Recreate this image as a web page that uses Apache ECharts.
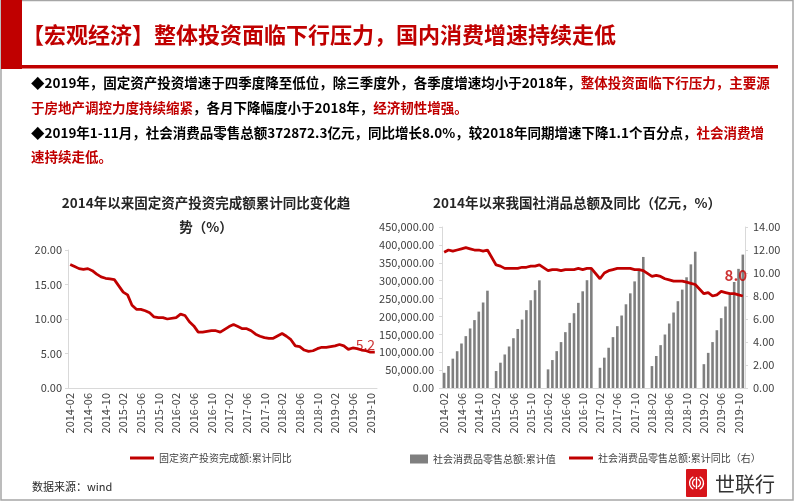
<!DOCTYPE html>
<html><head><meta charset="utf-8">
<script src="https://cdn.jsdelivr.net/npm/echarts@6/dist/echarts.min.js"></script>
<style>html,body{margin:0;padding:0;background:#fff}#c{width:802px;height:502px}</style>
</head><body><div id="c"></div>
<script>
// ---------- data ----------
const categories = [
 '2014-02','2014-03','2014-04','2014-05','2014-06','2014-07','2014-08','2014-09','2014-10','2014-11','2014-12',
 '2015-01','2015-02','2015-03','2015-04','2015-05','2015-06','2015-07','2015-08','2015-09','2015-10','2015-11','2015-12',
 '2016-01','2016-02','2016-03','2016-04','2016-05','2016-06','2016-07','2016-08','2016-09','2016-10','2016-11','2016-12',
 '2017-01','2017-02','2017-03','2017-04','2017-05','2017-06','2017-07','2017-08','2017-09','2017-10','2017-11','2017-12',
 '2018-01','2018-02','2018-03','2018-04','2018-05','2018-06','2018-07','2018-08','2018-09','2018-10','2018-11','2018-12',
 '2019-01','2019-02','2019-03','2019-04','2019-05','2019-06','2019-07','2019-08','2019-09','2019-10','2019-11'
];
// 固定资产投资完成额:累计同比 (%)
const faiYoY = [
 17.9,17.6,17.3,17.2,17.3,17.0,16.5,16.1,15.9,15.8,15.7,
 null,13.9,13.5,12.0,11.4,11.4,11.2,10.9,10.3,10.2,10.2,10.0,
 null,10.2,10.7,10.5,9.6,9.0,8.1,8.1,8.2,8.3,8.3,8.1,
 null,8.9,9.2,8.9,8.6,8.6,8.3,7.8,7.5,7.3,7.2,7.2,
 null,7.9,7.5,7.0,6.1,6.0,5.5,5.3,5.4,5.7,5.9,5.9,
 null,6.1,6.3,6.1,5.6,5.8,5.7,5.5,5.4,5.2,5.2
];
// 社会消费品零售总额:累计值 (亿元)
const retailTotal = [
 42500,61400,82000,102800,124400,145000,166400,189800,213500,239000,272000,
 null,47400,70700,93700,116000,139200,165000,191200,217600,245300,273400,300900,
 null,52100,78100,103000,128300,156100,182000,209000,238000,270300,301300,332300,
 null,56500,84800,112500,142200,172800,202600,234000,264600,298000,329500,366300,
 null,61300,89500,119800,149500,180200,211000,242600,275000,309500,345600,381000,
 null,66600,98200,128300,161500,195200,227800,262000,296300,333000,372872.3
];
// 社会消费品零售总额:累计同比 (%)
const retailYoY = [
 11.8,12.0,11.9,12.0,12.1,12.2,12.1,12.0,12.0,11.9,12.0,
 null,10.7,10.6,10.4,10.4,10.4,10.4,10.5,10.5,10.6,10.6,10.7,
 null,10.2,10.3,10.3,10.2,10.3,10.3,10.3,10.4,10.3,10.4,10.4,
 null,9.5,10.0,10.2,10.3,10.4,10.4,10.4,10.4,10.3,10.3,10.2,
 null,9.7,9.8,9.7,9.5,9.4,9.3,9.3,9.3,9.2,9.1,9.0,
 null,8.2,8.3,8.0,8.1,8.4,8.3,8.2,8.2,8.1,8.0
];
const faiLabelIndex = 68;     // 5.2
const retailLabelIndex = 69;  // 8.0
const leftTicks = {min:0, max:20, interval:5};
const rightBarTicks = {min:0, max:450000, interval:50000};
const rightLineTicks = {min:0, max:14, interval:2};

// ---------- styles ----------
const RED = '#C00000';
const FONT = '"Noto Sans CJK SC", "Noto Sans", sans-serif';
const axisTxt = {fontSize:11, color:'#404040', fontFamily:FONT};
const fmt2 = v => v.toFixed(2);
const fmtThousand = v => v.toLocaleString('en-US',{minimumFractionDigits:2, maximumFractionDigits:2});
const LINE_ICON = 'path://M0,0L24,0L24,3L0,3Z';

const onlyAt = (arr, idx) => arr.map((v,i) => i === idx ? v : '-');

const B = {fontSize:13.5, fontWeight:'bold', fontFamily:FONT, fill:'#000'};
const R = {fontSize:13.5, fontWeight:'bold', fontFamily:FONT, fill:RED};

const para = [
  ['◆2019年，固定资产投资增速于四季度降至低位，除三季度外，各季度增速均小于2018年，', '整体投资面临下行压力，主要源'],
  ['', '于房地产调控力度持续缩紧', '，各月下降幅度小于2018年，', '经济韧性增强。'],
  ['◆2019年1-11月，社会消费品零售总额372872.3亿元，同比增长8.0%，较2018年同期增速下降1.1个百分点，', '社会消费增'],
  ['', '速持续走低。']
];
const paraY = [83, 108, 133, 157];
function richLine(parts){ return parts.map((t,i)=> t ? (i%2===0 ? '{b|'+t+'}' : '{r|'+t+'}') : '').join(''); }

const graphic = [
  {type:'rect', shape:{x:1, y:0.5, width:792, height:499.5}, style:{fill:'none', stroke:'#A6A6A6', lineWidth:1.5}, silent:true},
  {type:'rect', shape:{x:1, y:0, width:21, height:69}, style:{fill:RED}, silent:true},
  {type:'rect', shape:{x:22, y:65, width:756, height:3.5}, style:{fill:RED}, silent:true},
  {type:'text', x:22, y:35, style:{text:'【宏观经济】整体投资面临下行压力，国内消费增速持续走低', fill:RED, fontSize:22, fontWeight:'bold', fontFamily:FONT, verticalAlign:'middle'}},
  ...para.map((p,i)=>({type:'text', x:31, y:paraY[i], style:{text:richLine(p), rich:{b:B, r:R}, verticalAlign:'middle'}})),
  {type:'text', x:32, y:487, style:{text:'数据来源：wind', fill:'#262626', fontSize:11, fontFamily:FONT, verticalAlign:'middle'}},
  {type:'group', x:686, y:469, children:[
    {type:'rect', shape:{x:0, y:0, width:21, height:28, r:1}, style:{fill:'#D7141A'}},
    {type:'arc', shape:{cx:10.5, cy:14, r:4, startAngle:Math.PI*0.6, endAngle:Math.PI*1.4}, style:{stroke:'#fff', lineWidth:1.3, fill:'none'}},
    {type:'arc', shape:{cx:10.5, cy:14, r:7, startAngle:Math.PI*0.65, endAngle:Math.PI*1.35}, style:{stroke:'#fff', lineWidth:1.3, fill:'none'}},
    {type:'arc', shape:{cx:10.5, cy:14, r:4, startAngle:-Math.PI*0.4, endAngle:Math.PI*0.4}, style:{stroke:'#fff', lineWidth:1.3, fill:'none'}},
    {type:'arc', shape:{cx:10.5, cy:14, r:7, startAngle:-Math.PI*0.35, endAngle:Math.PI*0.35}, style:{stroke:'#fff', lineWidth:1.3, fill:'none'}},
    {type:'line', shape:{x1:10.5, y1:8, x2:10.5, y2:20}, style:{stroke:'#fff', lineWidth:1.3}}
  ]},
  {type:'text', x:715, y:484, style:{text:'世联行', fill:'#333', fontSize:20, fontFamily:FONT, verticalAlign:'middle'}}
];

const xAxisBase = gi => ({
  type:'category', gridIndex:gi, data:categories, boundaryGap:true,
  axisLine:{lineStyle:{color:'#D9D9D9', width:1}}, axisTick:{show:false},
  axisLabel:Object.assign({interval:3, rotate:90, margin:5}, axisTxt), splitLine:{show:false}
});
const yBase = (gi, t, f, pos, margin) => ({
  type:'value', gridIndex:gi, min:t.min, max:t.max, interval:t.interval, position:pos,
  axisLine:{show:true, lineStyle:{color:'#D9D9D9'}}, axisTick:{show:true, length:3, lineStyle:{color:'#D9D9D9'}},
  splitLine:{show:false}, axisLabel:Object.assign({formatter:f, margin:margin}, axisTxt)
});
const legendText = {fontSize:10, color:'#404040', fontFamily:FONT};

const option = {
  animation:false,
  backgroundColor:'#fff',
  textStyle:{fontFamily:FONT},
  graphic: graphic,
  title:[
    {text:'2014年以来固定资产投资完成额累计同比变化趋\n势（%）', left:201, top:186, textAlign:'center',
     textStyle:{fontSize:13.5, fontWeight:'bold', color:'#262626', lineHeight:24, fontFamily:FONT}},
    {text:'2014年以来我国社消品总额及同比（亿元，%）', left:572, top:186, textAlign:'center',
     textStyle:{fontSize:13.5, fontWeight:'bold', color:'#262626', lineHeight:24, fontFamily:FONT}}
  ],
  grid:[
    {left:68, top:250, width:309, height:138},
    {left:442, top:227, width:303, height:161}
  ],
  xAxis:[xAxisBase(0), xAxisBase(1)],
  yAxis:[
    yBase(0, leftTicks, fmt2, 'left', 6),
    yBase(1, rightBarTicks, fmtThousand, 'left', 8),
    yBase(1, rightLineTicks, fmt2, 'right', 8)
  ],
  legend:[
    {data:[{name:'固定资产投资完成额:累计同比', icon:LINE_ICON}], left:125, top:448, itemWidth:24, itemHeight:3,
     textStyle:legendText},
    {data:['社会消费品零售总额:累计值'], left:405, top:449, itemWidth:18, itemHeight:9, icon:'rect',
     textStyle:legendText},
    {data:[{name:'社会消费品零售总额:累计同比（右）', icon:LINE_ICON}], left:564, top:448, itemWidth:24, itemHeight:3,
     textStyle:legendText}
  ],
  series:[
    {name:'固定资产投资完成额:累计同比', type:'line', xAxisIndex:0, yAxisIndex:0, data:faiYoY,
     symbol:'none', connectNulls:true, lineStyle:{color:RED, width:2.75}, itemStyle:{color:RED}, z:3},
    {name:'社会消费品零售总额:累计值', type:'bar', xAxisIndex:1, yAxisIndex:1, data:retailTotal,
     barWidth:'60%', itemStyle:{color:'#7F7F7F'}},
    {name:'社会消费品零售总额:累计同比（右）', type:'line', xAxisIndex:1, yAxisIndex:2, data:retailYoY,
     symbol:'none', connectNulls:true, lineStyle:{color:RED, width:2.75}, itemStyle:{color:RED}, z:3},
    {name:'faiLabel', type:'scatter', xAxisIndex:0, yAxisIndex:0, data:onlyAt(faiYoY, faiLabelIndex),
     symbolSize:1, itemStyle:{color:'rgba(0,0,0,0)'}, z:5, silent:true,
     label:{show:true, position:'top', distance:0, offset:[-5,0], color:RED, fontSize:14, fontFamily:FONT,
            formatter:p=>Number(p.value).toFixed(1)}},
    {name:'retailLabel', type:'scatter', xAxisIndex:1, yAxisIndex:2, data:onlyAt(retailYoY, retailLabelIndex),
     symbolSize:1, itemStyle:{color:'rgba(0,0,0,0)'}, z:5, silent:true,
     label:{show:true, position:'top', distance:5, offset:[-7,-8], color:RED, fontSize:15, fontWeight:'bold', fontFamily:FONT,
            formatter:p=>Number(p.value).toFixed(1)}}
  ]
};
const chart = echarts.init(document.getElementById('c'), null, {renderer:'canvas'});
chart.setOption(option);
</script>
</body></html>
